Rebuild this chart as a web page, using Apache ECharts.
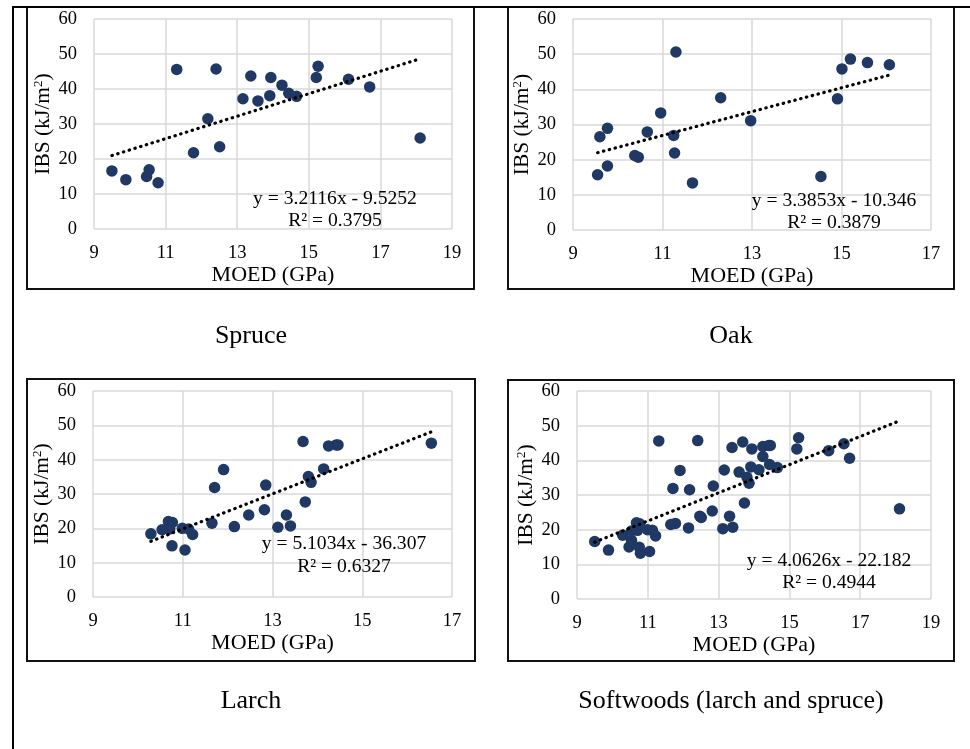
<!DOCTYPE html>
<html>
<head>
<meta charset="utf-8">
<title>IBS vs MOED</title>
<script src="https://cdn.jsdelivr.net/npm/echarts@6/dist/echarts.min.js"></script>
<style>
  html, body { margin: 0; padding: 0; background: #fff; }
  #chart { width: 970px; height: 749px; }
</style>
</head>
<body>
<div id="chart"></div>
<script>
// Dynamic modulus of elasticity (GPa) vs impact bending strength (kJ/m2)
const spruceX = [9.50, 9.89, 10.47, 10.54, 10.79, 11.31, 11.78, 12.18, 12.41, 12.51, 13.16, 13.38, 13.58, 13.91, 13.94, 14.25, 14.44, 14.66, 15.21, 15.26, 16.11, 16.70, 18.11];
const spruceY = [16.6, 14.1, 15.0, 16.9, 13.2, 45.6, 21.8, 31.5, 45.7, 23.5, 37.2, 43.7, 36.6, 38.1, 43.3, 41.1, 38.8, 37.9, 43.3, 46.5, 42.8, 40.6, 26.0];

const oakX = [9.55, 9.60, 9.77, 9.77, 10.38, 10.46, 10.66, 10.96, 11.25, 11.27, 11.30, 11.67, 12.30, 12.97, 14.54, 14.91, 15.01, 15.20, 15.58, 16.07];
const oakY = [15.7, 26.5, 28.9, 18.2, 21.2, 20.7, 27.9, 33.3, 26.9, 21.9, 50.6, 13.4, 37.6, 31.1, 15.2, 37.3, 45.8, 48.6, 47.6, 47.0];

const larchX = [10.29, 10.54, 10.68, 10.71, 10.77, 10.76, 10.99, 11.05, 11.13, 11.22, 11.65, 11.71, 11.91, 12.15, 12.47, 12.82, 12.85, 13.12, 13.31, 13.40, 13.68, 13.73, 13.80, 13.86, 14.14, 14.25, 14.42, 14.46, 16.54];
const larchY = [18.4, 19.6, 22.0, 19.8, 21.7, 14.9, 20.0, 13.7, 19.8, 18.2, 21.5, 31.9, 37.1, 20.5, 23.9, 25.4, 32.6, 20.3, 23.9, 20.7, 45.3, 27.7, 35.1, 33.4, 37.3, 44.0, 44.3, 44.3, 44.8];

// Softwoods pool the larch and spruce samples
const softX = spruceX.concat(larchX);
const softY = spruceY.concat(larchY);

const panelNames = ['Spruce', 'Oak', 'Larch', 'Softwoods (larch and spruce)'];
const slopes = [3.2116, 3.3853, 5.1034, 4.0626];
const intercepts = [-9.5252, -10.346, -36.307, -22.182];
const rSquared = ['0.3795', '0.3879', '0.6327', '0.4944'];
const xMax = [19, 17, 17, 19];
const yTicks = [0, 10, 20, 30, 40, 50, 60];

const xs = [spruceX, oakX, larchX, softX];
const ys = [spruceY, oakY, larchY, softY];

const SERIF = '"Liberation Serif", "Times New Roman", serif';
const DOT = '#203864';
const GRID_LINE = '#d9d9d9';

// Layout of the four panels
const grids = [
  { left: 94,  top: 19,  width: 358, height: 210 },
  { left: 573, top: 19,  width: 358, height: 211 },
  { left: 93,  top: 391, width: 359, height: 206 },
  { left: 577, top: 391, width: 354, height: 208 }
];
const frames = [
  [27, 7, 447, 282], [508, 7, 446, 282],
  [27, 379, 448, 282], [508, 380, 446, 281]
];
const captionPos = [[251, 336], [731, 336], [251, 701], [731, 701]];
const eqPos = [[335, 199, 221], [834, 201, 223], [344, 544, 567], [829, 561, 583]];

const xAxes = [], yAxes = [], series = [], graphics = [];

grids.forEach(function (g, i) {
  xAxes.push({
    gridIndex: i, type: 'value', min: 9, max: xMax[i], interval: 2,
    name: 'MOED (GPa)', nameLocation: 'middle', nameGap: 35,
    nameTextStyle: { fontFamily: SERIF, fontSize: 22, color: '#000' },
    axisLine: { show: false }, axisTick: { show: false },
    axisLabel: { fontFamily: SERIF, fontSize: 18.5, color: '#000', margin: 15 },
    splitLine: { show: true, lineStyle: { color: GRID_LINE, width: 1.5 } }
  });
  yAxes.push({
    gridIndex: i, type: 'value', min: yTicks[0], max: yTicks[yTicks.length - 1], interval: 10,
    name: '{a|IBS (kJ/m}{s|2}{a|)}', nameLocation: 'middle', nameGap: 36, nameRotate: 90,
    nameTextStyle: {
      rich: {
        a: { fontFamily: SERIF, fontSize: 21.5, color: '#000', lineHeight: 24 },
        s: { fontFamily: SERIF, fontSize: 13, color: '#000', verticalAlign: 'top', lineHeight: 24 }
      }
    },
    axisLine: { show: false }, axisTick: { show: false },
    axisLabel: { fontFamily: SERIF, fontSize: 18.5, color: '#000', margin: 17 },
    splitLine: { show: true, lineStyle: { color: GRID_LINE, width: 1.5 } }
  });

  const pts = xs[i].map(function (x, k) { return [x, ys[i][k]]; });
  series.push({
    type: 'scatter', xAxisIndex: i, yAxisIndex: i, data: pts,
    symbol: 'circle', symbolSize: 11.5,
    itemStyle: { color: DOT, opacity: 1 }, z: 3
  });

  // Linear trend line over the observed MOED range
  const lo = Math.min.apply(null, xs[i]);
  const hi = Math.max.apply(null, xs[i]);
  const line = [lo, hi].map(function (x) { return [x, slopes[i] * x + intercepts[i]]; });
  series.push({
    type: 'line', xAxisIndex: i, yAxisIndex: i, data: line,
    symbol: 'none', silent: true, z: 4,
    lineStyle: { color: '#000', width: 3.2, type: [0.5, 5.5], cap: 'round' }
  });

  const f = frames[i];
  graphics.push({
    type: 'rect', shape: { x: f[0], y: f[1], width: f[2], height: f[3] },
    style: { fill: null, stroke: '#111', lineWidth: 2 }, z: 10
  });
  graphics.push({
    type: 'text', x: captionPos[i][0], y: captionPos[i][1],
    style: { text: panelNames[i], font: '26px ' + SERIF, fill: '#000', align: 'center', verticalAlign: 'middle' }
  });
  const sign = intercepts[i] < 0 ? ' - ' : ' + ';
  graphics.push({
    type: 'text', x: eqPos[i][0], y: eqPos[i][1], z: 6,
    style: { text: 'y = ' + slopes[i] + 'x' + sign + Math.abs(intercepts[i]), font: '19.6px ' + SERIF, fill: '#000', align: 'center', verticalAlign: 'middle' }
  });
  graphics.push({
    type: 'text', x: eqPos[i][0], y: eqPos[i][2], z: 6,
    style: { text: 'R\u00B2 = ' + rSquared[i], font: '19.6px ' + SERIF, fill: '#000', align: 'center', verticalAlign: 'middle' }
  });
});

// Outer frame lines
graphics.push({ type: 'line', shape: { x1: 12, y1: 7, x2: 970, y2: 7 }, style: { stroke: '#000', lineWidth: 2 }, z: 11 });
graphics.push({ type: 'line', shape: { x1: 13, y1: 7, x2: 13, y2: 749 }, style: { stroke: '#000', lineWidth: 2 }, z: 11 });

const chart = echarts.init(document.getElementById('chart'), null, { renderer: 'canvas' });
chart.setOption({
  animation: false,
  backgroundColor: '#fff',
  grid: grids,
  xAxis: xAxes,
  yAxis: yAxes,
  series: series,
  graphic: graphics
});
</script>
</body>
</html>
